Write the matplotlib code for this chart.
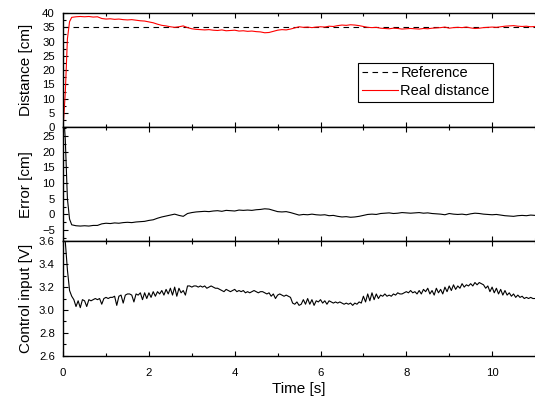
import numpy as np
import matplotlib
matplotlib.use('Agg')
import matplotlib.pyplot as plt
from matplotlib.ticker import MultipleLocator, FormatStrFormatter

plt.rcParams['font.family'] = ['Liberation Sans', 'DejaVu Sans']

# ---------------------------------------------------------------- data
REFERENCE = 35.0

# distance / error sampled at these times [s]
time_early = [0.0, 0.05, 0.1, 0.15, 0.2]
dist_early = [0.0, 12.0, 31.0, 37.0, 38.5]
err_early = [35.0, 24.0, 5.0, -1.5, -3.3]

# from 0.3 s to 11.0 s, every 0.1 s
dist_main = [
    38.7, 38.8, 38.7, 38.8, 38.6, 38.7, 38.1,
    37.9, 38.0, 37.8, 37.9, 37.7, 37.6, 37.7, 37.5, 37.3, 37.2,
    36.9, 36.6, 36.1, 35.7, 35.5, 35.2, 35.0, 35.2, 35.5, 34.9,
    34.5, 34.3, 34.2, 34.1, 34.2, 34.0, 33.9, 34.1, 33.8, 33.9,
    34.0, 33.7, 33.8, 33.6, 33.7, 33.5, 33.4, 33.1, 33.2, 33.6,
    34.0, 34.2, 34.1, 34.4, 34.8, 35.2, 35.0, 35.1, 34.9, 35.1,
    35.2, 35.1, 35.4, 35.3, 35.6, 35.8, 35.7, 35.9, 35.8, 35.6,
    35.3, 35.0, 34.9, 35.0, 34.7, 34.6, 34.5, 34.7, 34.6, 34.4,
    34.5, 34.6, 34.5, 34.4, 34.6, 34.5, 34.7, 34.8, 34.9, 35.1,
    34.7, 34.9, 35.0, 34.9, 35.1, 34.8, 34.6, 34.7, 34.9, 35.0,
    35.1, 35.0, 35.2, 35.4, 35.5, 35.6, 35.4, 35.3, 35.4, 35.2,
    35.3,
]

err_main = [
    -3.6, -3.7, -3.6, -3.7, -3.5, -3.5, -3.0,
    -2.8, -2.9, -2.7, -2.8, -2.6, -2.5, -2.6, -2.4, -2.3, -2.2,
    -1.9, -1.7, -1.2, -0.8, -0.5, -0.2, 0.1, -0.3, -0.6, 0.3,
    0.6, 0.8, 0.9, 1.0, 0.9, 1.1, 1.2, 1.0, 1.3, 1.2,
    1.1, 1.4, 1.3, 1.4, 1.3, 1.5, 1.6, 1.8, 1.7, 1.3,
    0.9, 0.8, 0.9, 0.6, 0.2, -0.2, 0.0, -0.1, 0.1, -0.1,
    -0.2, -0.1, -0.4, -0.3, -0.6, -0.8, -0.7, -0.9, -0.8, -0.6,
    -0.3, 0.0, 0.1, 0.0, 0.3, 0.4, 0.5, 0.3, 0.4, 0.6,
    0.5, 0.4, 0.5, 0.6, 0.4, 0.5, 0.3, 0.2, 0.1, -0.1,
    0.3, 0.1, 0.0, 0.1, -0.1, 0.2, 0.4, 0.3, 0.1, 0.0,
    -0.1, 0.0, -0.2, -0.4, -0.5, -0.6, -0.4, -0.3, -0.4, -0.2,
    -0.3,
]

# control input, one sample every 0.05 s from 0 to 11 s
CTRL_STEP = 0.05
control = [
    3.65, 3.60, 3.35, 3.17, 3.12, 3.09, 3.03, 3.08, 3.02, 3.09,
    3.08, 3.03, 3.09, 3.08, 3.09, 3.10, 3.09, 3.10, 3.05, 3.10,
    3.11, 3.10, 3.11, 3.11, 3.12, 3.04, 3.12, 3.13, 3.06, 3.13,
    3.14, 3.14, 3.13, 3.07, 3.14, 3.13, 3.15, 3.09, 3.15, 3.10,
    3.15, 3.11, 3.16, 3.12, 3.16, 3.14, 3.17, 3.13, 3.18, 3.14,
    3.19, 3.13, 3.20, 3.12, 3.19, 3.15, 3.17, 3.13, 3.21, 3.21,
    3.20, 3.21, 3.21, 3.20, 3.21, 3.20, 3.21, 3.19, 3.20, 3.21,
    3.20, 3.19, 3.19, 3.18, 3.17, 3.16, 3.18, 3.17, 3.16, 3.17,
    3.18, 3.16, 3.17, 3.16, 3.17, 3.15, 3.16, 3.15, 3.16, 3.17,
    3.16, 3.15, 3.16, 3.16, 3.15, 3.14, 3.15, 3.12, 3.14, 3.10,
    3.13, 3.14, 3.13, 3.12, 3.13, 3.12, 3.11, 3.06, 3.05, 3.07,
    3.04, 3.05, 3.09, 3.05, 3.10, 3.05, 3.09, 3.04, 3.08, 3.07,
    3.09, 3.06, 3.08, 3.05, 3.08, 3.07, 3.06, 3.07, 3.06, 3.07,
    3.06, 3.05, 3.06, 3.05, 3.06, 3.04, 3.06, 3.05, 3.07, 3.06,
    3.12, 3.07, 3.14, 3.08, 3.15, 3.09, 3.14, 3.10, 3.13, 3.12,
    3.14, 3.12, 3.13, 3.12, 3.14, 3.13, 3.15, 3.14, 3.14, 3.15,
    3.16, 3.15, 3.17, 3.15, 3.16, 3.14, 3.17, 3.14, 3.18, 3.16,
    3.19, 3.14, 3.17, 3.13, 3.19, 3.15, 3.18, 3.14, 3.20, 3.16,
    3.21, 3.17, 3.22, 3.18, 3.21, 3.19, 3.23, 3.20, 3.22, 3.21,
    3.23, 3.21, 3.24, 3.22, 3.24, 3.23, 3.22, 3.19, 3.21, 3.16,
    3.20, 3.15, 3.19, 3.14, 3.18, 3.13, 3.17, 3.13, 3.15, 3.12,
    3.14, 3.11, 3.13, 3.11, 3.12, 3.10, 3.11, 3.10, 3.11, 3.10,
    3.10,
]

t_dist = np.concatenate([time_early, 0.3 + 0.1 * np.arange(len(dist_main))])
distance = np.concatenate([dist_early, dist_main])
error = np.concatenate([err_early, err_main])
t_ctrl = CTRL_STEP * np.arange(len(control))

# ---------------------------------------------------------------- plot
fig, axes = plt.subplots(3, 1, sharex=True, figsize=(5.35, 3.96), dpi=100)
plt.subplots_adjust(left=0.118, right=1.0, top=0.967, bottom=0.102, hspace=0)
ax1, ax2, ax3 = axes

ax1.plot([0, 11], [REFERENCE, REFERENCE], color='black', lw=0.8,
         dashes=(5, 4), label='Reference')
ax1.plot(t_dist, distance, color='#ff0000', lw=0.8, label='Real distance')
ax1.set_ylim(0, 40)
ax1.yaxis.set_major_locator(MultipleLocator(5))
ax1.yaxis.set_minor_locator(MultipleLocator(2.5))
ax1.set_ylabel('Distance [cm]', fontsize=11)
leg = ax1.legend(loc='upper left', bbox_to_anchor=(0.625, 0.565),
                 borderaxespad=0, fontsize=10.5, fancybox=False,
                 edgecolor='black', framealpha=1, handlelength=2.5,
                 handletextpad=0.15, borderpad=0.25, labelspacing=0.25)
leg.get_frame().set_linewidth(0.8)

ax2.plot(t_dist, error, color='black', lw=0.8)
ax2.set_ylim(-8.6, 27.8)
ax2.yaxis.set_major_locator(MultipleLocator(5))
ax2.yaxis.set_minor_locator(MultipleLocator(2.5))
ax2.set_ylabel('Error [cm]', fontsize=11)

ax3.plot(t_ctrl, control, color='black', lw=0.8)
ax3.set_ylim(2.6, 3.6)
ax3.yaxis.set_major_locator(MultipleLocator(0.2))
ax3.yaxis.set_minor_locator(MultipleLocator(0.1))
ax3.yaxis.set_major_formatter(FormatStrFormatter('%.1f'))
ax3.set_ylabel('Control input [V]', fontsize=11)
ax3.set_xlabel('Time [s]', fontsize=11, labelpad=3)
ax3.set_xlim(0, 11)
ax3.xaxis.set_major_locator(MultipleLocator(2))
ax3.xaxis.set_minor_locator(MultipleLocator(1))

for ax in axes:
    ax.spines['right'].set_visible(False)
    for s in ('left', 'top', 'bottom'):
        ax.spines[s].set_linewidth(1.0)
    ax.tick_params(which='both', direction='in', top=True, right=False,
                   labelsize=8.2, width=0.8)
    ax.tick_params(axis='y', which='both', pad=6)
    ax.tick_params(axis='x', which='both', pad=9)
    ax.tick_params(which='major', length=3.5)
    ax.tick_params(which='minor', length=2)
    ax.yaxis.set_label_coords(-0.064, 0.5)

plt.savefig('out.png', dpi=100)
